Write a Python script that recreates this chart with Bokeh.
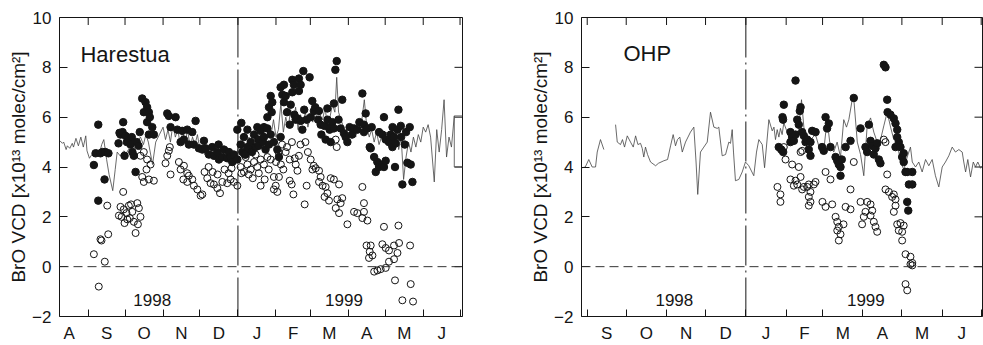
import math
from bokeh.plotting import figure
from bokeh.models import FixedTicker, Span, Range1d
from bokeh.layouts import row
from bokeh.embed import file_html
from bokeh.resources import INLINE
from bokeh.core.properties import value

# x values: days since 1 Aug 1998
MONTH_BOUNDS = [31, 61, 92, 122, 153, 184, 212, 243, 273, 304, 334]
MONTH_CENTERS = [15.5, 46, 76.5, 107, 137.5, 168.5, 198, 227.5, 258, 288.5, 319]
MONTH_LABELS = ["A", "S", "O", "N", "D", "J", "F", "M", "A", "M", "J"]
Y_TICKS = [-2, 0, 2, 4, 6, 8, 10]
YEAR_LABELS = ["1998", "1999"]
NEW_YEAR = 153
Y_LABEL = "BrO VCD [x10\u00b9\u00b3 molec/cm\u00b2]"

HARESTUA_LINE = [
    (8, 5.05), (10, 4.95), (11, 5.0), (13, 4.7), (14, 4.85), (16, 4.75), (18, 4.95), (19, 4.8),
    (21, 5.15), (23, 4.85), (25, 5.2), (27, 4.8), (29, 5.25), (30, 4.65), (32, 4.35), (34, 4.5),
    (36, 4.4), (38, 4.7), (40, 4.5), (42, 4.9), (43.7, 5.1), (46, 4.3), (48, 3.7), (51, 3.05),
    (53, 3.9), (54.6, 4.6), (57, 4.45), (60, 4.65), (62, 4.55), (65.5, 4.85), (68, 4.7), (71, 5.0),
    (73.6, 5.2), (76, 4.9), (78, 5.3), (80, 5.0), (83.4, 4.1), (86, 5.0), (89, 5.3), (92, 5.6),
    (94, 5.1), (96, 5.5), (98, 5.0), (100, 5.7), (102, 5.2), (104, 5.5), (106, 4.9), (108, 5.4),
    (110, 5.0), (112, 5.5), (114, 4.8), (116, 5.2), (118, 4.9), (120, 5.3), (122, 4.7), (124, 4.9),
    (126, 4.5), (128, 4.8), (130, 4.4), (132, 4.7), (134, 4.3), (136, 4.6), (138, 4.5), (140, 4.9),
    (142, 4.4), (144, 4.8), (146, 4.2), (148, 4.6), (150, 4.1), (152, 4.5), (154, 4.9), (156, 4.7),
    (158, 5.0), (160, 4.6), (162, 5.2), (164, 4.8), (166, 5.4), (168, 4.9), (170, 5.5), (172, 5.1),
    (174, 5.7), (176, 5.0), (178, 5.6), (180, 5.3), (182, 5.9), (184, 5.2), (186, 5.5), (188, 6.55),
    (190, 5.4), (192, 6.0), (194, 5.6), (196, 6.3), (198, 5.7), (200, 6.4), (202, 5.5), (204, 6.1),
    (206, 5.8), (208, 6.2), (210, 5.6), (212, 6.0), (214, 5.8), (216, 6.3), (218, 5.7), (220, 6.1),
    (222, 5.9), (224, 6.4), (226, 5.6), (228, 6.0), (230, 6.5), (232, 6.2), (233.5, 7.6), (235, 6.2),
    (237, 5.9), (239, 5.6), (241, 5.1), (243, 5.4), (245, 5.3), (247, 5.6), (249, 5.2), (251, 5.8),
    (253, 5.5), (254.5, 6.1), (256, 6.7), (258, 5.6), (260, 5.2), (262, 5.5), (264, 5.0), (266, 5.4),
    (268, 4.9), (270, 5.2), (272, 5.0), (274, 5.4), (276, 4.8), (278, 5.3), (280, 4.9), (282, 5.5),
    (284, 4.7), (286, 5.2), (288, 3.5), (290, 4.4), (292, 5.0), (294, 4.6), (296, 5.2), (298, 4.8),
    (300, 5.3), (302, 5.0), (304, 5.6), (306, 5.4), (308, 5.7), (310, 5.2), (313, 3.4), (315, 5.5),
    (317, 4.6), (319, 5.5), (321, 6.7), (323, 4.4), (325, 5.2), (327, 4.8), (329.3, 6.05),
    (337, 6.05), (337, 4.0), (329.3, 4.0), (329.3, 6.05),
]

HARESTUA_FILLED = [
    (35.6, 4.08), (39.2, 2.65), (37, 4.55), (41, 4.55), (42.7, 4.6), (45, 4.6), (47.5, 4.55),
    (39.2, 5.7), (44.3, 3.5), (55.7, 4.95), (56.5, 5.37), (57.3, 5.3), (59, 5.4), (59.5, 5.8),
    (60.6, 4.45), (61.4, 5.25), (62.5, 5.0), (63.9, 5.05), (65.5, 4.9), (66.5, 5.2), (67, 4.6),
    (68.2, 4.45), (69.6, 3.8), (70.5, 5.0), (72, 4.85), (73, 5.4), (75, 6.75), (76.3, 6.2),
    (77.7, 6.6), (79, 6.4), (79, 5.8), (80.4, 6.2), (81.2, 6.0), (80.4, 5.3), (83.2, 5.6),
    (84.5, 5.3), (95.4, 6.15), (96.7, 6.05), (98.1, 5.6), (102.2, 6.0), (103.6, 5.5), (106.3, 5.0),
    (107.6, 5.45), (109, 5.1), (111.7, 5.5), (113, 4.9), (115.8, 5.4), (117.1, 4.9), (118.5, 5.85),
    (121.2, 4.75), (124, 4.7), (125.3, 5.05), (126.6, 4.75), (129.3, 4.5), (132, 4.8), (133.4, 4.45),
    (136.2, 4.6), (137.2, 4.9), (137.5, 4.3), (140.3, 4.4), (141.6, 4.7), (144.3, 4.35), (145.7, 4.6),
    (147, 4.4), (148.4, 4.2), (149.7, 4.5), (152.5, 4.3), (152.5, 5.5), (155.2, 4.9), (155.8, 5.77),
    (156.6, 4.6), (157.9, 5.2), (158.5, 4.5), (159.3, 4.5), (160.7, 5.5), (160.7, 4.8), (162.6, 4.7),
    (163.4, 5.0), (164.5, 4.6), (166.1, 5.3), (167.4, 4.8), (168.8, 5.6), (169.5, 5.1), (170, 4.85),
    (171.5, 5.45), (173.2, 5.0), (174.2, 5.2), (174.2, 5.6), (175.5, 4.7), (177, 5.55), (177, 6.0),
    (178.3, 4.9), (178.3, 6.4), (179.7, 5.3), (179.7, 6.85), (180.5, 6.2), (181, 6.6), (182.3, 5.0),
    (185.1, 4.7), (186.4, 4.4), (187.8, 5.2), (187.8, 7.2), (189.2, 6.9), (190.5, 7.3), (190.5, 6.6),
    (191.9, 6.85), (193, 6.2), (195.2, 5.7), (196, 6.5), (197.3, 7.5), (197.3, 7.0), (198.6, 7.3),
    (199, 6.1), (200.1, 5.9), (201.5, 5.95), (202.7, 7.55), (202.7, 7.05), (204.1, 7.3), (204.1, 5.85),
    (205.5, 5.5), (206.3, 7.85), (207, 6.3), (209, 5.9), (211.4, 7.6), (212.3, 6.0), (213.6, 6.65),
    (214.9, 6.25), (216, 6.4), (218.3, 5.9), (219, 6.25), (220.4, 5.7), (221, 5.3), (223.6, 5.65),
    (224.5, 5.1), (225.9, 6.35), (226, 5.9), (227.7, 5.5), (228.6, 5.6), (228.6, 5.0), (230, 5.8),
    (231.2, 6.55), (231.2, 5.55), (232.4, 7.9), (233.5, 8.25), (235, 5.9), (236.7, 5.55), (238, 6.7),
    (239.4, 5.35), (240.8, 5.2), (242.2, 5.0), (244, 5.6), (246, 5.3), (247.6, 5.55), (250.3, 5.5),
    (252, 5.8), (254.4, 6.95), (255.7, 5.7), (255.7, 5.4), (257.1, 6.15), (258.5, 5.55), (260.4, 4.8),
    (261.2, 4.75), (262, 5.6), (264, 4.4), (265.3, 3.8), (266.6, 4.2), (268, 4.0), (268, 5.4),
    (270.7, 4.1), (270.7, 5.3), (272, 4.0), (272, 6.0), (273.4, 4.25), (273.4, 5.1), (276, 5.0),
    (277.5, 5.3), (278.9, 4.8), (279, 5.6), (280.2, 5.2), (281, 4.0), (281.6, 4.95), (283, 5.5),
    (283.8, 6.3), (285.7, 5.65), (286, 5.2), (287, 3.3), (289, 4.9), (290, 5.4), (291.1, 4.17),
    (293, 5.6), (293.8, 4.1), (295.2, 3.4),
]

HARESTUA_OPEN = [
    (35.6, 0.5), (39.6, -0.8), (41.8, 1.05), (41, 1.1), (44.5, 0.2), (47.3, 1.3), (46.5, 2.45),
    (59.5, 3.0), (56, 2.05), (57.3, 2.4), (58.2, 2.0), (60, 2.3), (60.6, 1.75), (62.2, 2.15),
    (62.8, 1.9), (64.1, 2.45), (64.9, 1.95), (65.9, 2.5), (66.9, 2.2), (68.2, 1.8), (69.6, 1.35),
    (71, 2.55), (71.5, 1.7), (72.3, 2.35), (73.6, 2.0), (73.6, 4.45), (75, 3.6), (76.3, 4.6),
    (76.3, 3.4), (78.5, 3.9), (79, 4.3), (80.4, 3.5), (81.8, 4.1), (84.5, 3.45), (94, 4.15),
    (95.4, 4.45), (96.7, 4.65), (97.5, 4.8), (98.1, 3.7), (104.9, 4.2), (106.3, 3.9), (108.5, 3.5),
    (109, 4.05), (111.7, 3.75), (111.7, 3.4), (113, 3.65), (115.8, 3.5), (117.1, 3.25), (119.9, 3.1),
    (122.6, 2.85), (124, 2.9), (125.8, 3.8), (128, 3.55), (129.1, 4.0), (130.7, 3.35), (132.4, 3.8),
    (133.4, 3.3), (136.2, 3.15), (136.4, 3.7), (138.4, 2.95), (140.3, 3.4), (142.1, 3.9), (144.3, 3.35),
    (145.4, 3.75), (147, 3.5), (147.8, 3.95), (149.7, 3.4), (152.5, 3.25), (155.2, 4.0), (155.8, 3.75),
    (157.9, 3.8), (159.3, 4.4), (160.7, 4.1), (161.8, 3.7), (163.4, 3.9), (165.1, 3.55), (166.1, 4.2),
    (167.4, 4.5), (168.8, 4.0), (170, 3.75), (171.5, 4.3), (171.5, 3.25), (174.2, 4.1), (174.8, 3.5),
    (177, 4.4), (178.1, 3.9), (179.7, 4.3), (182.3, 3.6), (182.3, 3.1), (183.8, 3.25), (184, 4.2),
    (185.1, 3.0), (186, 4.6), (186.4, 3.6), (188, 4.1), (189, 4.9), (190, 3.9), (191.9, 4.6),
    (193, 4.8), (195.2, 4.3), (195.2, 3.45), (196.8, 3.3), (197, 5.0), (198.2, 2.9), (199.3, 4.35),
    (200.1, 4.1), (201.5, 3.85), (202.7, 4.45), (204, 4.9), (207.4, 2.5), (208, 5.0), (209, 3.25),
    (210, 4.6), (212.3, 4.3), (213.7, 3.9), (214.8, 4.05), (216.4, 3.95), (219.1, 3.85), (219.1, 3.4),
    (220.4, 3.6), (222, 3.25), (223.6, 2.8), (224.5, 3.2), (225.9, 2.95), (227.2, 2.65), (228.6, 3.55),
    (231.2, 3.5), (232.7, 5.1), (232.7, 2.35), (233.5, 4.8), (234, 2.7), (235.4, 3.3), (235.4, 2.15),
    (236.7, 2.55), (238, 2.75), (242.2, 1.7), (247.6, 2.2), (250.3, 2.15), (254.4, 1.95), (254.4, 3.2),
    (255.7, 2.2), (255.7, 2.55), (257.8, 0.85), (258.5, 1.85), (259.8, 0.35), (260.4, 0.6), (261.2, 0.85),
    (262.6, 0.45), (264, -0.2), (266.7, -0.15), (269.3, -0.1), (270.7, 0.9), (272, 1.6), (273.4, 0.75),
    (273.4, -0.05), (276.1, 0.65), (276.1, 0.2), (280.2, 0.85), (280.2, 0.3), (281, -0.55), (283, 0.55),
    (283.8, 1.65), (284.3, 0.95), (287, -1.35), (293.3, 0.85), (293.8, -0.7), (295.7, -1.4),
]

OHP_LINE = [
    (27.1, 3.97), (29.5, 4.0), (32.2, 4.3), (34.8, 4.0), (37.4, 4.0), (38.7, 4.6), (41.2, 5.1),
    (43.8, 4.7), (46, float("nan")), (52.8, 5.7), (54.1, 5.0), (56.6, 4.9), (58.1, 5.1), (59.7, 4.8),
    (61.8, 5.25), (64.3, 5.0), (66.4, 4.8), (68.2, 5.25), (70, 4.9), (72, 4.95), (73.3, 4.75),
    (74.5, 4.4), (75.8, 4.8), (77.4, 4.5), (79.7, 4.2), (83.6, 4.05), (85.8, 4.15), (89.9, 4.25),
    (92.8, 4.3), (95.1, 4.85), (97.1, 5.3), (98.9, 4.85), (100.4, 5.1), (102.2, 5.2), (104.1, 4.6),
    (106.6, 5.0), (110.4, 5.4), (113, 5.6), (114.7, 4.2), (116, 2.9), (118.1, 4.6), (120.7, 4.8),
    (123.3, 5.0), (125.8, 6.2), (128.4, 5.6), (131, 5.55), (132.2, 5.6), (134.8, 4.45), (137.4, 4.5),
    (139.9, 5.0), (141.2, 4.95), (142.5, 5.5), (143.5, 4.6), (145, 3.45), (147.6, 3.5), (150.2, 3.8),
    (152.7, 4.2), (155.3, 4.05), (159.1, 3.65), (161.2, 4.6), (163, 5.1), (165.6, 4.9), (167.4, 3.97),
    (170.7, 5.9), (173.3, 5.45), (174.6, 5.6), (175.8, 5.1), (177.1, 5.5), (178.4, 5.2), (179.6, 5.55),
    (180.9, 5.3), (182.2, 5.77), (184.8, 5.4), (187.3, 5.0), (189.9, 5.25), (193.7, 5.5), (195.8, 6.7),
    (197.6, 5.6), (200.2, 5.0), (202.7, 5.1), (206.6, 5.3), (210.4, 4.6), (213, 4.7), (215.5, 5.9),
    (217.5, 5.0), (220.6, 4.6), (223.2, 5.0), (225.8, 4.4), (228.3, 5.9), (230.4, 5.6), (232.2, 5.9),
    (234.8, 6.7), (236, 6.75), (238.7, 5.0), (241.2, 4.5), (243.7, 3.65), (246.3, 5.65), (248.9, 5.97),
    (251.4, 5.4), (254, 5.0), (256.6, 5.1), (259.1, 5.65), (261.7, 6.2), (264.3, 5.6), (266.8, 5.1),
    (269.4, 5.0), (271.9, 4.2), (274.5, 3.9), (277.1, 4.4), (279.6, 4.8), (281, 4.2), (283.5, 4.0),
    (286, 4.2), (288.6, 3.8), (291.2, 4.3), (293.7, 4.05), (296.3, 4.3), (298.8, 3.65), (301.4, 3.2),
    (304, 4.0), (306.5, 4.2), (309.1, 4.45), (311.7, 4.8), (314.2, 4.6), (316.8, 4.7), (319.4, 4.6),
    (320.6, 4.2), (322, 3.8), (323.7, 4.3), (325.8, 3.6), (327.9, 4.2), (329.6, 4.0), (331.4, 4.2),
    (333.5, 3.95), (335, 4.05),
]

OHP_FILLED = [
    (178.3, 4.8), (180.2, 4.7), (181.7, 4.6), (181.2, 6.0), (181.6, 5.9), (182.2, 6.5), (187.3, 5.4),
    (187.3, 5.0), (188.6, 5.2), (189.9, 5.05), (191.2, 5.3), (191.2, 7.47), (192.5, 5.9), (193.7, 5.7),
    (194.5, 6.25), (195.1, 6.4), (196.3, 5.4), (197.6, 5.25), (198.9, 5.0), (200.2, 5.1), (201.4, 4.7),
    (202.7, 5.0), (202.7, 4.45), (204, 5.45), (206.6, 5.4), (211.6, 4.8), (212.9, 4.65), (214.3, 6.0),
    (215.5, 5.55), (216.8, 5.75), (218.1, 4.8), (222, 4.4), (223.3, 4.25), (224.5, 4.1), (225.8, 4.0),
    (225.8, 3.65), (226.8, 4.3), (229.7, 4.8), (233.5, 5.05), (236, 6.77), (241.2, 5.55), (245, 4.8),
    (246.3, 4.6), (247.6, 5.7), (248.9, 5.05), (250.2, 4.85), (251.4, 4.5), (252.7, 4.75), (254, 4.95),
    (255.3, 4.3), (256.5, 4.15), (259.1, 8.1), (260.4, 8.0), (261.7, 6.7), (262, 6.2), (264.2, 6.1),
    (266.8, 5.95), (268.1, 5.75), (268.1, 4.8), (269.4, 5.5), (269.4, 5.2), (270.6, 5.0), (271.9, 4.8),
    (273.2, 4.4), (274.4, 4.55), (274.4, 4.2), (275.8, 3.8), (277.1, 3.8), (281, 3.8), (278.4, 3.3),
    (281, 3.3), (277.1, 2.6), (277.9, 2.25),
]

OHP_OPEN = [
    (177.3, 3.2), (179.6, 2.9), (179.6, 2.6), (182.2, 4.8), (183.5, 4.3), (188.6, 4.1), (187.3, 3.5),
    (189.9, 3.25), (191.2, 3.45), (192.5, 3.3), (195.1, 3.6), (193.7, 4.0), (195.1, 4.6), (196.3, 4.65),
    (196.3, 3.1), (197.6, 3.2), (200.2, 3.2), (201.4, 3.3), (202.7, 3.0), (201.4, 2.8), (202.7, 2.6),
    (201.4, 2.45), (206.6, 3.4), (205.3, 3.3), (214.3, 3.8), (211.9, 2.6), (214.3, 2.4), (218.1, 3.5),
    (219.4, 2.5), (222, 2.0), (223.3, 1.8), (224.5, 1.6), (223.3, 1.45), (225.8, 1.3), (224.5, 1.05),
    (228.1, 1.7), (229.7, 2.4), (233.5, 2.3), (233.5, 3.1), (236, 4.2), (241.2, 2.6), (246.3, 2.6),
    (248.9, 2.5), (245, 2.2), (243.7, 2.0), (242.4, 1.7), (248.9, 2.05), (250.2, 2.25), (251.4, 1.8),
    (252.7, 1.6), (254, 1.4), (259.1, 5.1), (260.4, 5.0), (261.7, 3.7), (260.4, 3.1), (263, 3.0),
    (266.8, 2.9), (268.1, 2.7), (265.5, 2.8), (268.1, 2.45), (266.8, 2.2), (269.4, 1.7), (271.9, 1.75),
    (274.4, 1.65), (270.6, 1.45), (273.2, 1.4), (273.2, 1.05), (275.8, 0.5), (279.6, 0.4), (281, 0.15),
    (281, 0.05), (279.6, 0.1), (275.8, -0.7), (277.1, -0.95),
]

INK = "#151515"
FONT = "Liberation Sans"


def split(pairs):
    return [a for a, _ in pairs], [b for _, b in pairs]


def panel(width, border_left, border_right, x_start, x_end, line_pts, open_pts, filled_pts,
          name, name_x, name_y, year_x):
    p = figure(width=width, height=345, x_range=Range1d(x_start, x_end), y_range=Range1d(-2, 10),
               output_backend="svg", toolbar_location=None,
               min_border_left=border_left, min_border_right=border_right,
               min_border_top=17, min_border_bottom=27,
               background_fill_color="white", border_fill_color="white")
    p.grid.visible = False
    p.outline_line_color = INK
    p.outline_line_width = 1

    xa = p.xaxis[0]
    xa.ticker = FixedTicker(ticks=MONTH_CENTERS, minor_ticks=MONTH_BOUNDS)
    xa.major_label_overrides = {c: l for c, l in zip(MONTH_CENTERS, MONTH_LABELS)}
    xa.major_tick_in = 0
    xa.major_tick_out = 0
    xa.minor_tick_in = 7
    xa.minor_tick_out = 0
    xa.minor_tick_line_color = INK
    xa.axis_line_color = None
    xa.major_label_standoff = 7
    xa.major_label_text_font = FONT
    xa.major_label_text_font_size = "17px"
    xa.major_label_text_color = INK

    ya = p.yaxis[0]
    ya.ticker = FixedTicker(ticks=Y_TICKS)
    ya.major_tick_in = 8
    ya.major_tick_out = 0
    ya.minor_tick_line_color = None
    ya.major_tick_line_color = INK
    ya.axis_line_color = None
    ya.major_label_standoff = 8
    ya.major_label_text_font = FONT
    ya.major_label_text_font_size = "17px"
    ya.major_label_text_color = INK
    ya.axis_label = Y_LABEL
    ya.axis_label_text_font = FONT
    ya.axis_label_text_font_size = "19px"
    ya.axis_label_text_font_style = "normal"
    ya.axis_label_text_color = INK
    ya.axis_label_standoff = 0

    # inward ticks on the top and right frame edges (half of each dash is clipped by the frame)
    p.scatter(MONTH_BOUNDS, [Y_TICKS[-1]] * len(MONTH_BOUNDS), marker="dash", size=15,
              angle=math.pi / 2, line_color=INK, line_width=1)
    p.scatter([x_end] * len(Y_TICKS), Y_TICKS, marker="dash", size=16,
              line_color=INK, line_width=1)

    p.add_layout(Span(location=0, dimension="width", line_color="#333333", line_width=1,
                      line_dash="9 5"))
    p.add_layout(Span(location=NEW_YEAR, dimension="height", line_color=INK, line_width=1,
                      line_dash="40 5 2 5"))

    lx, ly = split(line_pts)
    p.line(lx, ly, line_color="#444444", line_width=0.8)
    ox, oy = split(open_pts)
    p.scatter(ox, oy, marker="circle", size=7, fill_color=None, line_color=INK, line_width=1)
    fx, fy = split(filled_pts)
    p.scatter(fx, fy, marker="circle", size=7.5, fill_color=INK, line_color=INK, line_width=1)

    p.text(x=[name_x], y=[name_y], text=[name], text_font=value(FONT), text_font_size="22px",
           text_color=INK, text_baseline="alphabetic", text_align="left")
    p.text(x=year_x, y=[-1.34, -1.34], text=YEAR_LABELS, text_font=value(FONT),
           text_font_size="17px", text_color=INK, text_baseline="alphabetic", text_align="center")
    return p


p1 = panel(488, 59, 26, 7.6, 336, HARESTUA_LINE, HARESTUA_OPEN, HARESTUA_FILLED,
           "Harestua", 24.7, 8.52, [83.2, 239.4])
p2 = panel(495, 93, 1, 26.6, 335, OHP_LINE, OHP_OPEN, OHP_FILLED,
           "OHP", 58.9, 8.56, [98.0, 245.3])

layout = row(p1, p2)
open("out.html", "w").write(file_html(layout, INLINE))
